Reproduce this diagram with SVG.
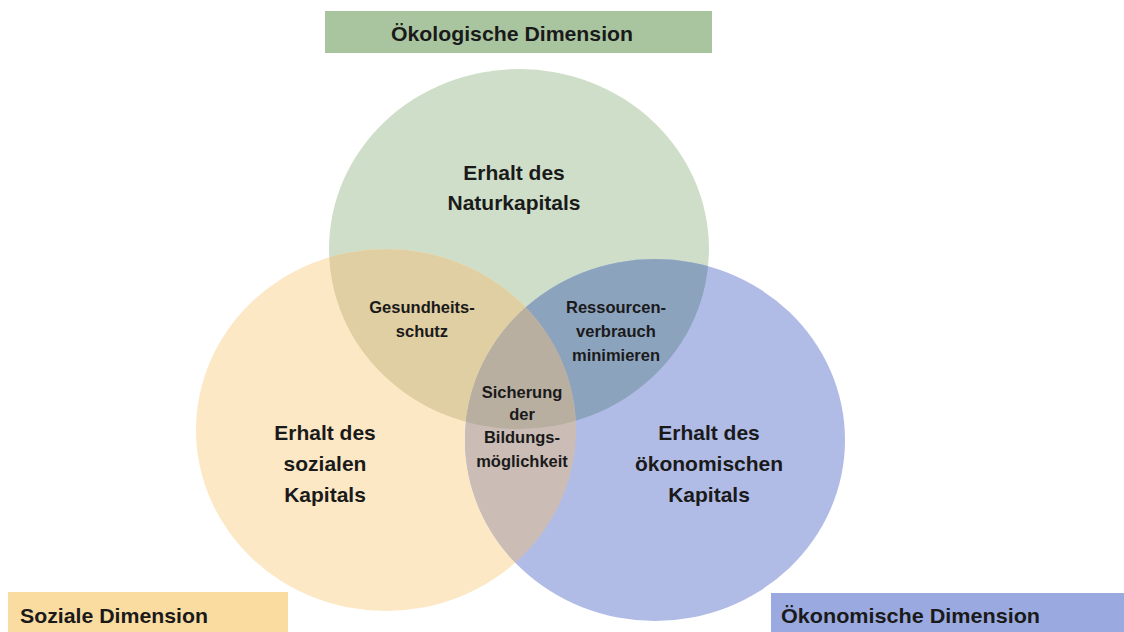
<svg xmlns="http://www.w3.org/2000/svg" width="1124" height="632" viewBox="0 0 1124 632">
<style>
.t{font-family:"Liberation Sans",Arial,sans-serif;font-weight:bold;fill:#1a1a1a;text-anchor:middle}
.big{font-size:21px}
.sm{font-size:16.5px}
.lbl{font-family:"Liberation Sans",Arial,sans-serif;font-weight:bold;fill:#1a1a1a;font-size:21px}
</style>
<defs>
<clipPath id="clipG"><ellipse cx="519" cy="249" rx="190" ry="180"/></clipPath>
<clipPath id="clipO"><ellipse cx="386" cy="430" rx="190" ry="181"/></clipPath>
</defs>
<rect width="1124" height="632" fill="#ffffff"/>
<g id="circles">
<ellipse id="circle-oeko" cx="519" cy="249" rx="190" ry="180" fill="#cfdec8"/>
<ellipse id="circle-sozial" cx="386" cy="430" rx="190" ry="181" fill="#fde8c6"/>
<ellipse id="circle-oekonom" cx="655" cy="440" rx="190" ry="181" fill="#b1bce6"/>
<ellipse id="overlap-go" cx="386" cy="430" rx="190" ry="181" fill="#e0cfa2" clip-path="url(#clipG)"/>
<ellipse id="overlap-gb" cx="655" cy="440" rx="190" ry="181" fill="#8ca3be" clip-path="url(#clipG)"/>
<ellipse id="overlap-ob" cx="655" cy="440" rx="190" ry="181" fill="#cbbdb5" clip-path="url(#clipO)"/>
<g id="overlap-all" clip-path="url(#clipG)"><ellipse cx="655" cy="440" rx="190" ry="181" fill="#b8afa0" clip-path="url(#clipO)"/></g>
</g>
<g id="node-oeko-label">
<rect x="325" y="11" width="387" height="42" fill="#a9c5a0"/>
<text class="lbl" x="391" y="41" textLength="242" lengthAdjust="spacingAndGlyphs">Ökologische Dimension</text>
</g>
<g id="node-sozial-label">
<rect x="8" y="592" width="280" height="40" fill="#fadca1"/>
<text class="lbl" x="20" y="623" textLength="188" lengthAdjust="spacingAndGlyphs">Soziale Dimension</text>
</g>
<g id="node-oekonom-label">
<rect x="771" y="593" width="353" height="39" fill="#9aaae0"/>
<text class="lbl" x="781" y="623" textLength="259" lengthAdjust="spacingAndGlyphs">Ökonomische Dimension</text>
</g>
<g id="node-natur">
<text class="t big" x="514" y="180">Erhalt des</text>
<text class="t big" x="514" y="210">Naturkapitals</text>
</g>
<g id="node-sozial">
<text class="t big" x="325" y="440">Erhalt des</text>
<text class="t big" x="325" y="471">sozialen</text>
<text class="t big" x="325" y="502">Kapitals</text>
</g>
<g id="node-oekonom">
<text class="t big" x="709" y="440">Erhalt des</text>
<text class="t big" x="709" y="471">ökonomischen</text>
<text class="t big" x="709" y="502">Kapitals</text>
</g>
<g id="node-gesundheit">
<text class="t sm" x="422" y="313">Gesundheits-</text>
<text class="t sm" x="422" y="337">schutz</text>
</g>
<g id="node-ressourcen">
<text class="t sm" x="616" y="313">Ressourcen-</text>
<text class="t sm" x="616" y="337">verbrauch</text>
<text class="t sm" x="616" y="361">minimieren</text>
</g>
<g id="node-bildung">
<text class="t sm" x="522" y="398">Sicherung</text>
<text class="t sm" x="522" y="420">der</text>
<text class="t sm" x="522" y="443">Bildungs-</text>
<text class="t sm" x="522" y="467">möglichkeit</text>
</g>
</svg>
